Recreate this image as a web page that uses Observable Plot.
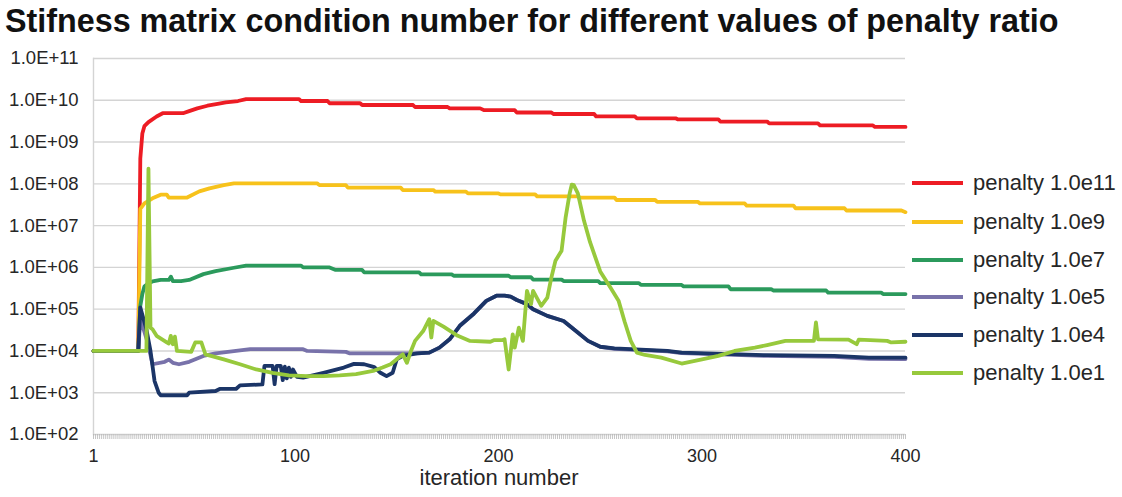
<!DOCTYPE html>
<html>
<head>
<meta charset="utf-8">
<script src="https://cdn.jsdelivr.net/npm/d3@7"></script>
<script src="https://cdn.jsdelivr.net/npm/@observablehq/plot@0.6"></script>
<style>
  html, body { margin: 0; padding: 0; background: #fff; }
  #wrap { position: relative; width: 1122px; height: 497px; overflow: hidden; font-family: "Liberation Sans", Arial, sans-serif; color: #262626; }
  #title { position: absolute; left: 5px; top: 5px; font-size: 32.3px; line-height: 32px; font-weight: bold; color: #111; white-space: nowrap; }
  #chart { position: absolute; left: 0; top: 40px; }
  #xlabel { position: absolute; left: 0; width: 998px; text-align: center; top: 467px; font-size: 22px; line-height: 22px; white-space: nowrap; }
  .lg { position: absolute; left: 912px; height: 26px; display: flex; align-items: center; white-space: nowrap; }
  .lg .sw { width: 51px; height: 4px; margin-right: 10px; }
  .lg .tx { font-size: 22px; line-height: 26px; }
</style>
</head>
<body>
<div id="wrap">
  <div id="title">Stifness matrix condition number for different values of penalty ratio</div>
  <div id="chart"></div>
  <div id="xlabel">iteration number</div>
  <div id="legend"></div>
</div>
<script>
// ---- data (iteration, condition number) ----
const seriesNames = ["penalty 1.0e11", "penalty 1.0e9", "penalty 1.0e7", "penalty 1.0e5", "penalty 1.0e4", "penalty 1.0e1"];
const seriesColors = ["#ed1c24", "#f7c21b", "#2b9a5c", "#7872aa", "#1b3567", "#97c93c"];

const penalty1e11 = [[1,1e4],[23,1e4],[24,4e8],[25,1.6e9],[26,2.4e9],[28,3e9],[32,4.1e9],[35,4.9e9],[45,4.9e9],[48,5.5e9],[52,6.4e9],[57,7.4e9],[62,8.2e9],[66,8.9e9],[72,9.6e9],[76,1.07e10],[102,1.07e10],[103,9.6e9],[116,9.6e9],[117,8.5e9],[132,8.5e9],[133,7.7e9],[158,7.7e9],[159,6.9e9],[175,6.9e9],[176,6.4e9],[191,6.4e9],[193,5.8e9],[208,5.8e9],[209,5.1e9],[226,5.1e9],[227,4.7e9],[247,4.7e9],[248,4.1e9],[267,4.1e9],[268,3.7e9],[287,3.7e9],[288,3.5e9],[308,3.5e9],[309,3.1e9],[332,3.1e9],[333,2.8e9],[357,2.8e9],[358,2.5e9],[384,2.5e9],[385,2.3e9],[400,2.3e9]];

const penalty1e9 = [[1,1e4],[23,1e4],[24,2.5e7],[26,3.4e7],[30,4.5e7],[34,5.5e7],[37,5.5e7],[38,4.7e7],[47,4.7e7],[53,6.6e7],[58,7.8e7],[65,9.3e7],[70,1.02e8],[111,1.02e8],[112,9.3e7],[125,9.3e7],[126,8.1e7],[152,8.1e7],[153,7.1e7],[168,7.1e7],[169,6.5e7],[184,6.5e7],[185,5.9e7],[200,5.9e7],[201,5.6e7],[218,5.6e7],[219,5e7],[239,5e7],[240,4.7e7],[257,4.7e7],[258,4.1e7],[277,4.1e7],[278,3.7e7],[298,3.7e7],[299,3.4e7],[321,3.4e7],[322,3e7],[345,3e7],[346,2.6e7],[370,2.6e7],[371,2.3e7],[398,2.3e7],[400,2.1e7]];

const penalty1e7 = [[1,1e4],[23,1e4],[24,1.2e5],[25,2.3e5],[26,3.5e5],[28,4.2e5],[30,4.6e5],[34,5e5],[38,5e5],[39,6e5],[40,4.7e5],[44,4.7e5],[48,5e5],[55,6.9e5],[61,8.1e5],[70,9.8e5],[76,1.1e6],[103,1.1e6],[104,1e6],[117,1e6],[120,8.7e5],[133,8.7e5],[134,7.6e5],[161,7.6e5],[162,6.8e5],[177,6.8e5],[178,6.3e5],[205,6.3e5],[206,5.8e5],[216,5.8e5],[217,5.1e5],[231,5.1e5],[232,4.7e5],[249,4.7e5],[250,4.2e5],[269,4.2e5],[270,3.8e5],[290,3.8e5],[291,3.5e5],[313,3.5e5],[314,3e5],[334,3e5],[335,2.8e5],[361,2.8e5],[362,2.5e5],[388,2.5e5],[389,2.3e5],[400,2.3e5]];

const penalty1e5 = [[1,1e4],[23,1e4],[24,6e4],[27,2e4],[29,8e3],[30,4.8e3],[36,5.5e3],[38,6.2e3],[40,5.2e3],[43,4.8e3],[48,5.5e3],[55,7.6e3],[61,8.7e3],[78,1.1e4],[104,1.1e4],[106,1e4],[125,9.5e3],[127,8.7e3],[155,8.7e3],[160,8.7e3],[166,9.1e3],[171,1.2e4],[176,1.9e4],[181,4e4],[188,7.9e4],[194,1.58e5],[199,2.1e5],[203,2.1e5],[206,2e5],[209,1.66e5],[214,1.32e5],[217,1e5],[224,6.9e4],[232,5.2e4],[237,3.3e4],[244,1.74e4],[250,1.26e4],[257,1.12e4],[283,9.8e3],[290,8.9e3],[332,7.6e3],[365,7.2e3],[382,6.5e3],[400,6.4e3]];

const penalty1e4 = [[1,1e4],[23,1e4],[24,1.1e5],[27,3.3e4],[29,1e4],[31,1.9e3],[33,1e3],[34,8.7e2],[47,8.7e2],[48,1e3],[61,1.1e3],[63,1.23e3],[71,1.23e3],[73,1.5e3],[84,1.58e3],[85,4.4e3],[89,4.4e3],[90,1.6e3],[91,4.4e3],[93,4.4e3],[94,2e3],[95,4.2e3],[96,2.2e3],[97,4e3],[98,2.4e3],[99,3.6e3],[101,2.4e3],[104,2.3e3],[114,3e3],[124,4e3],[129,4.9e3],[134,4.8e3],[139,4.1e3],[142,3e3],[145,2.5e3],[148,3e3],[150,6.3e3],[153,7.6e3],[160,8.7e3],[166,9.1e3],[171,1.2e4],[176,1.9e4],[181,4e4],[188,7.9e4],[194,1.58e5],[199,2.1e5],[203,2.1e5],[206,2e5],[209,1.66e5],[214,1.32e5],[217,1e5],[224,6.9e4],[232,5.2e4],[237,3.3e4],[244,1.74e4],[250,1.26e4],[257,1.15e4],[283,1e4],[290,9.1e3],[332,7.9e3],[365,7.6e3],[382,6.9e3],[400,6.9e3]];

const penalty1e1 = [[1,1e4],[27,1e4],[28,2.3e8],[29,3.6e4],[30,3.3e4],[32,2.3e4],[37,1.6e4],[38,1.5e4],[39,2.3e4],[40,1.45e4],[41,2.2e4],[42,1e4],[49,9.5e3],[51,1.6e4],[54,1.6e4],[56,8.3e3],[65,6.3e3],[73,4.8e3],[81,3.6e3],[89,3e3],[97,2.6e3],[106,2.5e3],[114,2.5e3],[122,2.6e3],[130,2.8e3],[139,3.4e3],[143,4e3],[147,4.8e3],[150,6.3e3],[153,8.3e3],[155,5.2e3],[157,1e4],[159,1.74e4],[163,3e4],[166,5.75e4],[167,2.1e4],[168,5.25e4],[173,3.8e4],[180,2.3e4],[186,1.74e4],[196,1.66e4],[198,1.82e4],[202,1.82e4],[203,1.9e4],[205,3.6e3],[207,2.5e4],[208,1.2e4],[210,3.6e4],[212,1.74e4],[214,2.75e5],[216,1.32e5],[217,2.75e5],[221,1.2e5],[224,1.9e5],[226,5.75e5],[228,1.45e6],[231,2.5e6],[233,1.58e7],[235,6e7],[236,9.6e7],[237,9.3e7],[239,5.9e7],[242,1.32e7],[245,4e6],[250,8e5],[255,3.3e5],[259,1.6e5],[262,5e4],[265,1.74e4],[268,9.1e3],[272,8e3],[280,6.9e3],[290,5e3],[300,6.3e3],[308,7.6e3],[316,1e4],[326,1.2e4],[332,1.38e4],[341,1.74e4],[355,1.74e4],[356,4.8e4],[357,1.9e4],[372,1.86e4],[376,1.45e4],[377,1.86e4],[391,1.74e4],[393,1.6e4],[400,1.66e4]];

const yTicks = [1e2, 1e3, 1e4, 1e5, 1e6, 1e7, 1e8, 1e9, 1e10, 1e11];
const xTickLabels = [1, 100, 200, 300, 400];
const iterations = d3.range(1, 401);

// ---- build table ----
const allSeries = [penalty1e11, penalty1e9, penalty1e7, penalty1e5, penalty1e4, penalty1e1];
const rows = [];
allSeries.forEach((s, k) => s.forEach(([it, v]) => rows.push({series: seriesNames[k], it, v})));

const fmtY = d => "1.0E+" + String(Math.round(Math.log10(d))).padStart(2, "0");

const chart = Plot.plot({
  width: 1122,
  height: 430,
  marginLeft: 93,
  marginRight: 217,
  marginTop: 18,
  marginBottom: 36,
  style: {fontFamily: '"Liberation Sans", Arial, sans-serif', fontSize: "18.5px", color: "#262626", background: "white"},
  x: {domain: [1, 400]},
  y: {type: "log", domain: [1e2, 1e11]},
  color: {domain: seriesNames, range: seriesColors},
  marks: [
    Plot.ruleY(yTicks, {stroke: "#d4d4d4", strokeWidth: 1.4}),
    Plot.frame({anchor: "left", stroke: "#d4d4d4", strokeWidth: 1.4}),
    Plot.axisY({ticks: yTicks, tickFormat: fmtY, tickSize: 0, tickPadding: 15, label: null, fontSize: 18.5}),
    Plot.axisX({ticks: iterations, tickFormat: () => "", tickSize: 5, stroke: "#b5b5b5", strokeWidth: 0.8, label: null}),
    Plot.axisX({ticks: xTickLabels, tickSize: 0, tickPadding: 15, label: null, fontSize: 18}),
    Plot.line(rows, {x: "it", y: "v", z: "series", stroke: "series", strokeWidth: 3.8, strokeLinejoin: "round", strokeLinecap: "round"})
  ]
});
document.getElementById("chart").appendChild(chart);

// ---- legend ----
const legendCenters = [183, 222, 260, 297, 335, 373];
const lg = document.getElementById("legend");
seriesNames.forEach((name, k) => {
  const row = document.createElement("div");
  row.className = "lg";
  row.style.top = (legendCenters[k] - 13) + "px";
  row.innerHTML = `<div class="sw" style="background:${seriesColors[k]}"></div><div class="tx">${name}</div>`;
  lg.appendChild(row);
});
</script>
</body>
</html>
